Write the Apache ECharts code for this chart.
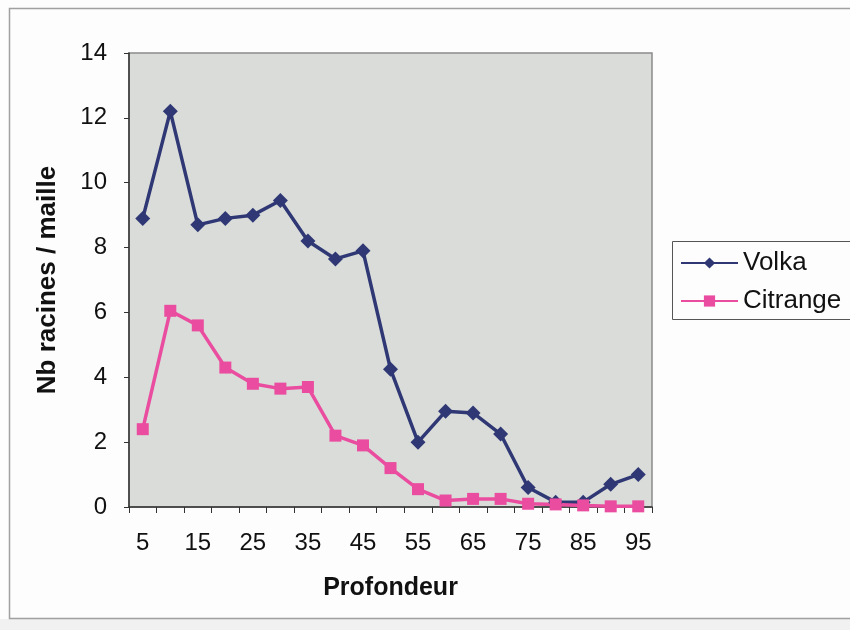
<!DOCTYPE html>
<html>
<head>
<meta charset="utf-8">
<script src="https://cdn.jsdelivr.net/npm/echarts@6/dist/echarts.min.js"></script>
<style>
  html, body { margin: 0; padding: 0; background: #fdfdfd; }
  #chart { width: 850px; height: 630px; }
</style>
</head>
<body>
<div id="chart"></div>
<script>
// Depth classes (cm)
const depths = ['5','10','15','20','25','30','35','40','45','50','55','60','65','70','75','80','85','90','95'];
// Mean number of roots per grid cell
const volka    = [8.9, 12.2, 8.7, 8.9, 9.0, 9.45, 8.2, 7.65, 7.9, 4.25, 2.0, 2.95, 2.9, 2.25, 0.6, 0.15, 0.15, 0.7, 1.0];
const citrange = [2.4, 6.05, 5.6, 4.3, 3.8, 3.65, 3.7, 2.2, 1.9, 1.2, 0.55, 0.2, 0.25, 0.25, 0.1, 0.08, 0.05, 0.02, 0.02];
const yTicks = { min: 0, max: 14, interval: 2 };

const FONT = 'Liberation Sans, Arial, sans-serif';
const chart = echarts.init(document.getElementById('chart'));

chart.setOption({
  backgroundColor: '#fdfdfd',
  animation: false,
  graphic: [
    { type: 'rect', shape: { x: 0, y: 619, width: 850, height: 11 }, style: { fill: '#f1f1f1' }, z: -10 },
    { type: 'rect', shape: { x: 9.5, y: 8.5, width: 860, height: 610 }, style: { fill: 'none', stroke: '#a0a0a0', lineWidth: 1.5 }, z: -5 },
    { type: 'rect', shape: { x: 672.5, y: 241.5, width: 200, height: 78 }, style: { fill: '#fdfdfd', stroke: '#555', lineWidth: 1 }, z: 1 }
  ],
  grid: {
    left: 129, right: 198, top: 53, bottom: 123,
    show: true, backgroundColor: '#d9dcd9', borderColor: '#8a8a8a', borderWidth: 1.5
  },
  legend: {
    orient: 'vertical', left: 675, top: 245, itemWidth: 57, itemHeight: 14, itemGap: 12,
    textStyle: { fontFamily: FONT, fontSize: 26, lineHeight: 26, color: '#111' },
    data: ['Volka', 'Citrange'], z: 5
  },
  xAxis: {
    type: 'category', data: depths, boundaryGap: true,
    name: 'Profondeur', nameLocation: 'middle', nameGap: 69,
    nameTextStyle: { fontFamily: FONT, fontSize: 25, fontWeight: 'bold', color: '#111' },
    axisLine: { lineStyle: { color: '#333', width: 1.5 } },
    axisTick: { show: true, interval: 0, length: 6, lineStyle: { color: '#333' } },
    axisLabel: { interval: 1, margin: 24, fontFamily: FONT, fontSize: 24, color: '#111' }
  },
  yAxis: {
    type: 'value', min: yTicks.min, max: yTicks.max, interval: yTicks.interval,
    name: 'Nb racines / maille', nameLocation: 'middle', nameGap: 68,
    nameTextStyle: { fontFamily: FONT, fontSize: 26, fontWeight: 'bold', color: '#111' },
    axisLine: { show: true, lineStyle: { color: '#333', width: 1.5 } },
    axisTick: { show: true, length: 5, lineStyle: { color: '#333' } },
    splitLine: { show: false },
    axisLabel: { margin: 22, fontFamily: FONT, fontSize: 24, color: '#111' }
  },
  series: [
    {
      name: 'Volka', type: 'line', data: volka,
      symbol: 'diamond', symbolSize: 15,
      lineStyle: { color: '#2f3874', width: 3.5 },
      itemStyle: { color: '#2f3874' }
    },
    {
      name: 'Citrange', type: 'line', data: citrange,
      symbol: 'rect', symbolSize: 12,
      lineStyle: { color: '#ea4d9f', width: 3.5 },
      itemStyle: { color: '#ea4d9f' }
    }
  ]
});
</script>
</body>
</html>
